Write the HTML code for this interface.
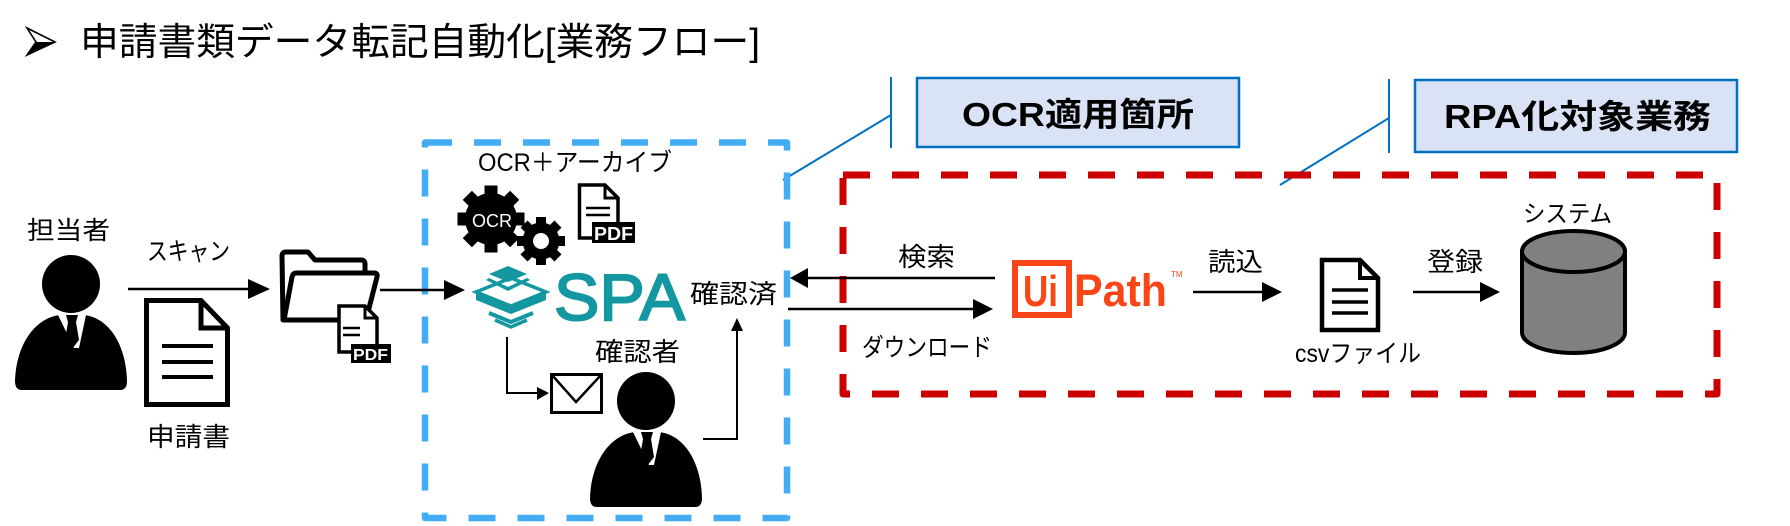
<!DOCTYPE html>
<html><head><meta charset="utf-8"><style>
html,body{margin:0;padding:0;background:#fff;}
svg{display:block;}
text{font-family:"Liberation Sans","Noto Sans CJK JP",sans-serif;fill:#000;}
</style></head><body>
<svg width="1790" height="526" viewBox="0 0 1790 526" xmlns="http://www.w3.org/2000/svg">
<rect width="1790" height="526" fill="#fff"/>

<!-- title -->
<polygon points="27,28 55,42 27,55 36,42" fill="#fff" stroke="#000" stroke-width="1.6" stroke-linejoin="miter"/>
<polygon points="36,42 55,42 27,55" fill="#000"/>
<text x="80" y="55" font-size="38" textLength="680" lengthAdjust="spacingAndGlyphs">申請書類データ転記自動化[業務フロー]</text>

<!-- callout boxes -->
<rect x="917" y="78" width="322" height="69" fill="#dae3f6" stroke="#0070c0" stroke-width="2.5"/>
<text x="962" y="126" font-size="33" font-weight="bold" textLength="232" lengthAdjust="spacingAndGlyphs">OCR適用箇所</text>
<rect x="1415" y="80" width="322" height="72" fill="#dae3f6" stroke="#0070c0" stroke-width="2.5"/>
<text x="1444" y="128" font-size="33" font-weight="bold" textLength="267" lengthAdjust="spacingAndGlyphs">RPA化対象業務</text>
<g stroke="#0070c0" stroke-width="2" fill="none">
<line x1="891" y1="77" x2="891" y2="148"/>
<line x1="891" y1="115" x2="783" y2="180"/>
<line x1="1389" y1="79" x2="1389" y2="153"/>
<line x1="1389" y1="118" x2="1280" y2="185"/>
</g>

<!-- dashed regions -->
<rect x="425" y="142.5" width="362" height="375.5" fill="none" stroke="#42acf5" stroke-width="6.5" stroke-dasharray="27 22" stroke-linejoin="round"/>
<rect x="843" y="175" width="874" height="219" fill="none" stroke="#cc0000" stroke-width="7" stroke-dasharray="27 22" stroke-linejoin="round"/>

<!-- person 1 -->
<g id="person">
<circle cx="71" cy="284" r="29" fill="#000"/>
<path d="M22,390 Q15,390 15,381 C16,346 34,318 60,315 L84,315 C110,318 126,346 127,381 Q127,390 120,390 Z" fill="#000"/>
<polygon points="58,315 86,315 79,348 74,348" fill="#fff"/>
<polygon points="66,315 78,315 76,322 68,322" fill="#000"/>
<polygon points="68,322 76,322 79,340 72,349 65,340" fill="#000"/>
</g>
<text x="27" y="239" font-size="25" textLength="83" lengthAdjust="spacingAndGlyphs">担当者</text>
<text x="147" y="260" font-size="25" textLength="83" lengthAdjust="spacingAndGlyphs">スキャン</text>

<!-- arrow 1 -->
<line x1="128" y1="289" x2="250" y2="289" stroke="#000" stroke-width="2.5"/>
<polygon points="248,279 270,289 248,299" fill="#000"/>

<!-- document 申請書 -->
<path d="M146.5,300.5 L201,300.5 L227.5,328 L227.5,404.5 L146.5,404.5 Z" fill="#fff" stroke="#000" stroke-width="5" stroke-linejoin="miter"/>
<path d="M201,300.5 L201,328 L227.5,328" fill="none" stroke="#000" stroke-width="5"/>
<g stroke="#000" stroke-width="4"><line x1="162" y1="346" x2="213" y2="346"/><line x1="162" y1="362" x2="213" y2="362"/><line x1="162" y1="377" x2="213" y2="377"/></g>
<text x="147" y="446" font-size="26" textLength="83" lengthAdjust="spacingAndGlyphs">申請書</text>

<!-- folder -->
<g fill="none" stroke="#000" stroke-width="5" stroke-linejoin="round" stroke-linecap="round">
<path d="M283,320 L282,256 Q282,252 286,252 L308,252 L315,260 L361,260 Q365,260 365,264 L365,272"/>
<path d="M296,273 L374,273 Q378,273 377,277 L367,316 Q366,320 361,320 L284,320 L292,277 Q293,273 296,273 Z"/>
</g>
<!-- small pdf -->
<path d="M339,306 L365,306 L377,318 L377,352 L339,352 Z" fill="#fff" stroke="#000" stroke-width="3.5"/>
<path d="M365,306 L365,318 L377,318" fill="none" stroke="#000" stroke-width="3"/>
<g stroke="#000" stroke-width="2.5"><line x1="343" y1="328" x2="360" y2="328"/><line x1="343" y1="335" x2="360" y2="335"/></g>
<rect x="351" y="344" width="40" height="19" fill="#000"/>
<text x="353" y="360" font-size="16" font-weight="bold" style="fill:#fff" textLength="35" lengthAdjust="spacingAndGlyphs">PDF</text>

<!-- arrow 2 -->
<line x1="380" y1="290" x2="446" y2="290" stroke="#000" stroke-width="2.5"/>
<polygon points="444,280 465,290 444,300" fill="#000"/>

<!-- OCR + archive -->
<text x="478" y="171" font-size="25" textLength="194" lengthAdjust="spacingAndGlyphs">OCR＋アーカイブ</text>
<g transform="translate(491,219)" fill="#000">
<circle r="26"/>
<rect x="-6.5" y="-33.5" width="13" height="12"/>
<rect x="-6.5" y="-33.5" width="13" height="12" transform="rotate(45)"/>
<rect x="-6.5" y="-33.5" width="13" height="12" transform="rotate(90)"/>
<rect x="-6.5" y="-33.5" width="13" height="12" transform="rotate(135)"/>
<rect x="-6.5" y="-33.5" width="13" height="12" transform="rotate(180)"/>
<rect x="-6.5" y="-33.5" width="13" height="12" transform="rotate(225)"/>
<rect x="-6.5" y="-33.5" width="13" height="12" transform="rotate(270)"/>
<rect x="-6.5" y="-33.5" width="13" height="12" transform="rotate(315)"/>
</g>
<text x="472" y="227" font-size="18" style="fill:#fff" textLength="40" lengthAdjust="spacingAndGlyphs">OCR</text>
<g transform="translate(541,241)" fill="#000">
<circle r="18.5"/>
<rect x="-5" y="-24" width="10" height="9"/>
<rect x="-5" y="-24" width="10" height="9" transform="rotate(45)"/>
<rect x="-5" y="-24" width="10" height="9" transform="rotate(90)"/>
<rect x="-5" y="-24" width="10" height="9" transform="rotate(135)"/>
<rect x="-5" y="-24" width="10" height="9" transform="rotate(180)"/>
<rect x="-5" y="-24" width="10" height="9" transform="rotate(225)"/>
<rect x="-5" y="-24" width="10" height="9" transform="rotate(270)"/>
<rect x="-5" y="-24" width="10" height="9" transform="rotate(315)"/>
<circle r="8" fill="#fff"/>
</g>
<!-- top pdf -->
<path d="M579.5,185 L605,185 L618,198 L618,238 L579.5,238 Z" fill="#fff" stroke="#000" stroke-width="3.5"/>
<path d="M605,185 L605,198 L618,198" fill="none" stroke="#000" stroke-width="3"/>
<g stroke="#000" stroke-width="2.5"><line x1="586" y1="208" x2="610" y2="208"/><line x1="586" y1="215" x2="610" y2="215"/></g>
<rect x="592" y="222" width="43" height="21" fill="#000"/>
<text x="594" y="240" font-size="18" font-weight="bold" style="fill:#fff" textLength="39" lengthAdjust="spacingAndGlyphs">PDF</text>

<!-- SPA logo -->
<g fill="#1397a0" stroke="none">
<polygon points="489,274 508,266 527,274 508,282"/>
<polygon points="527,278 508,287 489,278 486,280 508,291 530,280"/>
<polygon points="476,292 511,278 546,292 511,306" fill="none" stroke="#1397a0" stroke-width="3.5"/>
<polygon points="476,293 511,307 546,293 546,300 511,314 476,300"/>
<polyline points="489,313 511,322 533,313" fill="none" stroke="#1397a0" stroke-width="4"/>
<polyline points="495,320 511,327 527,320" fill="none" stroke="#1397a0" stroke-width="3.5"/>
</g>
<text x="554" y="320" font-size="66" style="fill:#1397a0;stroke:#1397a0;stroke-width:2" textLength="131" lengthAdjust="spacingAndGlyphs">SPA</text>
<text x="690" y="303" font-size="26" textLength="87" lengthAdjust="spacingAndGlyphs">確認済</text>

<!-- SPA down to mail -->
<polyline points="507,337 507,393 540,393" fill="none" stroke="#000" stroke-width="2"/>
<polygon points="537,387 549,393 537,400" fill="#000"/>
<rect x="551.5" y="374.5" width="50" height="38" fill="#fff" stroke="#000" stroke-width="3"/>
<polyline points="552,375 576,402 601,375" fill="none" stroke="#000" stroke-width="2.5"/>

<!-- person 2 -->
<use href="#person" transform="translate(575,117)"/>
<text x="595" y="361" font-size="26" textLength="85" lengthAdjust="spacingAndGlyphs">確認者</text>
<polyline points="703,439 737,439 737,330" fill="none" stroke="#000" stroke-width="2"/>
<polygon points="731,331 737,318 743,331" fill="#000"/>

<!-- search / download -->
<text x="898" y="266" font-size="26" textLength="57" lengthAdjust="spacingAndGlyphs">検索</text>
<line x1="995" y1="278" x2="806" y2="278" stroke="#000" stroke-width="2.5"/>
<polygon points="808,268 790,278 808,288" fill="#000"/>
<line x1="788" y1="309" x2="975" y2="309" stroke="#000" stroke-width="2.5"/>
<polygon points="973,299 993,309 973,319" fill="#000"/>
<text x="862" y="356" font-size="25" textLength="130" lengthAdjust="spacingAndGlyphs">ダウンロード</text>

<!-- UiPath -->
<rect x="1015" y="263" width="54" height="52" fill="#fff" stroke="#fa4616" stroke-width="6"/>
<text x="1023" y="306" font-size="44" font-weight="bold" style="fill:#fa4616" textLength="35" lengthAdjust="spacingAndGlyphs">Ui</text>
<text x="1074" y="306" font-size="45" font-weight="bold" style="fill:#fa4616" textLength="93" lengthAdjust="spacingAndGlyphs">Path</text>
<text x="1171" y="277" font-size="8" style="fill:#fa4616">TM</text>

<!-- read -->
<text x="1208" y="271" font-size="26" textLength="55" lengthAdjust="spacingAndGlyphs">読込</text>
<line x1="1193" y1="292" x2="1264" y2="292" stroke="#000" stroke-width="2.5"/>
<polygon points="1262,282 1282,292 1262,302" fill="#000"/>

<!-- csv file -->
<path d="M1322,260 L1360,260 L1378,278 L1378,330 L1322,330 Z" fill="#fff" stroke="#000" stroke-width="4.5"/>
<path d="M1360,260 L1360,278 L1378,278" fill="none" stroke="#000" stroke-width="4"/>
<g stroke="#000" stroke-width="3.5"><line x1="1332" y1="290" x2="1368" y2="290"/><line x1="1332" y1="302" x2="1368" y2="302"/><line x1="1332" y1="313" x2="1368" y2="313"/></g>
<text x="1295" y="362" font-size="25" textLength="126" lengthAdjust="spacingAndGlyphs">csvファイル</text>

<!-- register -->
<text x="1427" y="271" font-size="26" textLength="56" lengthAdjust="spacingAndGlyphs">登録</text>
<line x1="1413" y1="292" x2="1482" y2="292" stroke="#000" stroke-width="2.5"/>
<polygon points="1480,282 1500,292 1480,302" fill="#000"/>

<!-- system cylinder -->
<text x="1523" y="222" font-size="24" textLength="89" lengthAdjust="spacingAndGlyphs">システム</text>
<path d="M1522,251.5 L1522,332.5 A51.5,20.5 0 0 0 1625,332.5 L1625,251.5 Z" fill="#808080" stroke="#000" stroke-width="4"/>
<ellipse cx="1573.5" cy="251.5" rx="51.5" ry="20.5" fill="#808080" stroke="#000" stroke-width="4"/>
</svg>
</body></html>
